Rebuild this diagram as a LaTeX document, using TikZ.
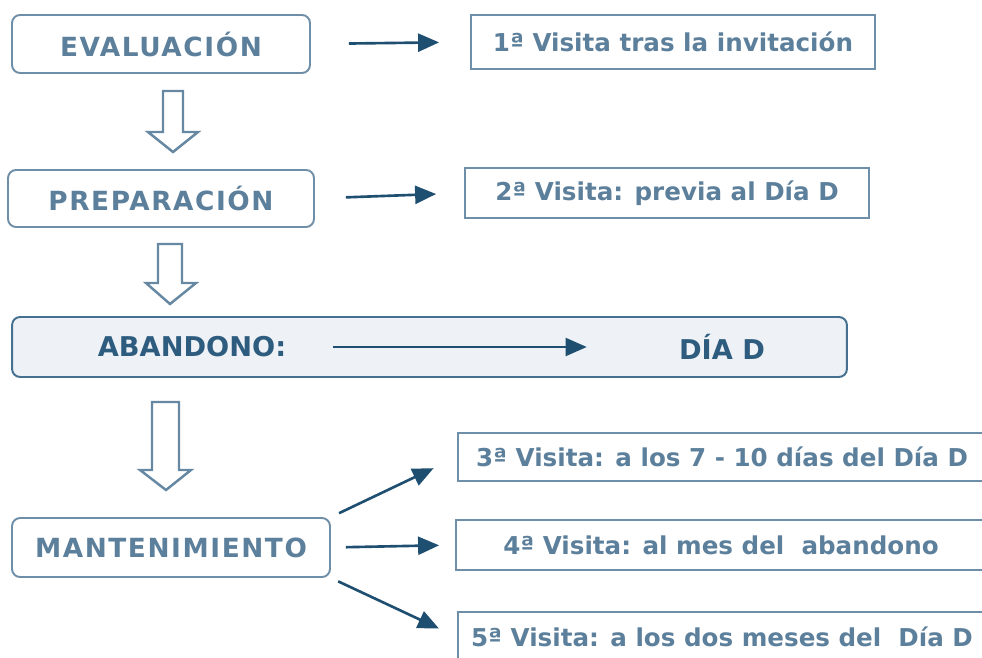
\documentclass[tikz,border=0pt]{standalone}
\usepackage{fontspec}
\setmainfont{DejaVu Sans}
\usetikzlibrary{arrows.meta}
\definecolor{boxline}{HTML}{6F8FA8}
\definecolor{boxtext}{HTML}{5C7F9B}
\definecolor{darktext}{HTML}{2E5C7F}
\definecolor{abline}{HTML}{45708F}
\definecolor{abfill}{HTML}{EEF2F6}
\definecolor{arrowcol}{HTML}{1E4E70}
\definecolor{hollowline}{HTML}{6688A2}
\tikzset{stage node/.style={draw=boxline,line width=1.1pt,rounded corners=0.16cm,text=boxtext,
            font=\bfseries\fontsize{15}{18}\selectfont\addfontfeature{LetterSpace=6}},
         visit node/.style={draw=boxline,line width=1.1pt,text=boxtext,font=\bfseries\fontsize{14}{17}\selectfont},
         aband text/.style={inner sep=0pt,text=darktext,font=\bfseries\fontsize{15.5}{18}\selectfont},
         link/.style={draw=arrowcol,fill=arrowcol,line width=1.5pt,-{Triangle[length=0.42cm,width=0.36cm]}},
         hollow/.style={draw=hollowline,line width=1.4pt,fill=white},
            }

\begin{document}
\begin{tikzpicture}[x=0.02cm,y=-0.02cm]
    \useasboundingbox (0,0) rectangle (982,658);
    \clip (0,0) rectangle (982,658);

    % stages
    \node[stage node, minimum width=5.96cm, minimum height=1.16cm] (eval) at (161,44) {EVALUACIÓN};
    \node[stage node, minimum width=6.12cm, minimum height=1.14cm] (prep) at (161,198.5) {PREPARACIÓN};
    \node[draw=abline, fill=abfill, line width=1.1pt, rounded corners=0.16cm,
          minimum width=16.7cm, minimum height=1.2cm] (aband) at (429.5,347) {};
    \node[aband text] (abtext) at (192,347) {ABANDONO:};
    \node[aband text] (diad) at (722,347) {DÍA D};
    \node[stage node, minimum width=6.36cm, minimum height=1.18cm] (mant) at (171,547.5) {MANTENIMIENTO};

    % visits
    \node[visit node, minimum width=8.08cm, minimum height=1.08cm] (v1) at (673,42) {1ª Visita tras la invitación};
    \node[visit node, minimum width=8.08cm, minimum height=1cm] (v2) at (667,193) {2ª Visita: previa al Día D};
    \node[visit node, minimum width=10.56cm, minimum height=0.96cm] (v3) at (722,457) {3ª Visita: a los 7 - 10 días del Día D};
    \node[visit node, minimum width=10.6cm, minimum height=1cm] (v4) at (721,545) {4ª Visita: al mes del\ \ abandono};
    \node[visit node, minimum width=10.56cm, minimum height=1cm] (v5) at (722,637) {5ª Visita: a los dos meses del\ \ Día D};

    \path
    (eval.east) edge[link, shorten <=0.76cm, shorten >=0.62cm] (v1.west)
    (prep.east) edge[link, shorten <=0.62cm, shorten >=0.56cm] (v2.west)
    (mant.north east) edge[link, shorten <=0.18cm, shorten >=0.52cm] (v3.west)
    (mant.east) edge[link, shorten <=0.3cm, shorten >=0.32cm] (v4.west)
    (mant.south east) edge[link, shorten <=0.16cm, shorten >=0.4cm] (v5.west);
    \draw[link, line width=1.1pt, shorten <=0.94cm, shorten >=1.84cm] (abtext.east) -- (diad.west);

    % hollow arrows
    \draw[hollow] (163,91) -- (183,91) -- (183,132) -- (198,132) -- (173,152) -- (148,132) -- (163,132) -- cycle;
    \draw[hollow] (158,244) -- (182,244) -- (182,283) -- (196,283) -- (170,304) -- (146,283) -- (158,283) -- cycle;
    \draw[hollow] (152,402) -- (179,402) -- (179,470) -- (191,470) -- (166,490) -- (140,470) -- (152,470) -- cycle;
\end{tikzpicture}
\end{document}
